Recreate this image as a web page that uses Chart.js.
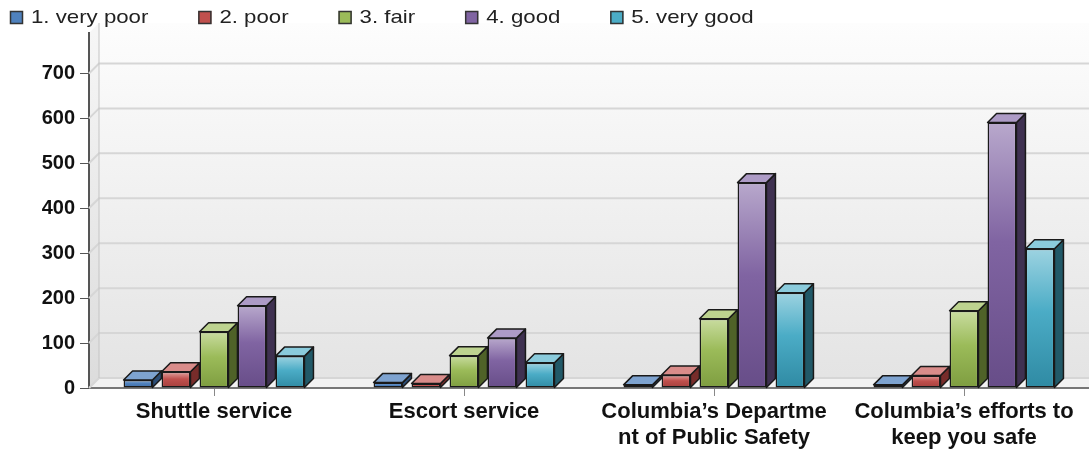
<!DOCTYPE html>
<html>
<head>
<meta charset="utf-8">
<script src="https://cdn.jsdelivr.net/npm/chart.js@4"></script>
<style>
  html, body { margin: 0; padding: 0; background: #fff; }
  #wrap { width: 1089px; height: 454px; }
</style>
</head>
<body>
<div id="wrap"><canvas id="chart" width="1089" height="454"></canvas></div>
<script>
// data
const categories = [
  "Shuttle service",
  "Escort service",
  ["Columbia\u2019s Departme", "nt of Public Safety"],
  ["Columbia\u2019s efforts to", "keep you safe"]
];
const seriesNames = ["1. very poor", "2. poor", "3. fair", "4. good", "5. very good"];
const veryPoor = [18, 12, 7, 7];
const poor     = [36, 10, 29, 28];
const fair     = [125, 72, 154, 172];
const good     = [183, 111, 457, 591];
const veryGood = [71, 56, 212, 310];
const yTicks = [0, 100, 200, 300, 400, 500, 600, 700];
const yMax = 790;

// colours: front, light top of front, bottom of front, top face, side face
const baseCol  = ["#4f81bd", "#c0504d", "#9bbb59", "#8064a2", "#4bacc6"];
const lightCol = ["#95b3d7", "#e3a3a1", "#c9dca0", "#b8a8cc", "#9dd3e1"];
const lowCol   = ["#3f6ca3", "#a33f3c", "#7e9d40", "#674d88", "#2f8aa3"];
const topCol   = ["#7ea3d0", "#d98c8a", "#bdd38f", "#ad9bc6", "#8acbdc"];
const sideCol  = ["#2c4d75", "#772c2a", "#4f6228", "#3f3151", "#215968"];

const DEPTH = 9;   // bar depth
const WALL = 10;   // back wall offset

function frontFill(i) {
  return c => {
    const chart = c.chart;
    if (!chart.chartArea || c.raw == null) return baseCol[i];
    const y = chart.scales.y;
    const top = y.getPixelForValue(c.raw);
    const bot = y.getPixelForValue(0);
    const g = chart.ctx.createLinearGradient(0, top, 0, Math.max(bot, top + 1));
    g.addColorStop(0, lightCol[i]);
    g.addColorStop(0.45, baseCol[i]);
    g.addColorStop(1, lowCol[i]);
    return g;
  };
}

const values = [veryPoor, poor, fair, good, veryGood];
const datasets = seriesNames.map((name, i) => ({
  label: name,
  data: values[i],
  backgroundColor: frontFill(i),
  borderColor: "#1a1a1a",
  borderWidth: 1.5,
  borderSkipped: false,
  categoryPercentage: 0.76,
  barPercentage: 0.76
}));

// walls, floor and back grid lines
const wallPlugin = {
  id: "walls",
  beforeDraw(chart) {
    const { ctx, chartArea: a } = chart;
    ctx.save();
    const g = ctx.createLinearGradient(0, a.top - WALL, 0, a.bottom);
    g.addColorStop(0, "#fdfdfd");
    g.addColorStop(1, "#e3e3e3");
    ctx.fillStyle = g;
    ctx.fillRect(a.left + WALL, a.top - WALL, a.right - a.left - WALL, a.bottom - a.top);
    // left wall
    const g2 = ctx.createLinearGradient(0, a.top, 0, a.bottom);
    g2.addColorStop(0, "#f6f6f6");
    g2.addColorStop(1, "#dcdcdc");
    ctx.fillStyle = g2;
    ctx.beginPath();
    ctx.moveTo(a.left, a.top);
    ctx.lineTo(a.left + WALL, a.top - WALL);
    ctx.lineTo(a.left + WALL, a.bottom - WALL);
    ctx.lineTo(a.left, a.bottom);
    ctx.closePath();
    ctx.fill();
    // floor
    ctx.fillStyle = "#f2f2f2";
    ctx.beginPath();
    ctx.moveTo(a.left, a.bottom);
    ctx.lineTo(a.left + WALL, a.bottom - WALL);
    ctx.lineTo(a.right, a.bottom - WALL);
    ctx.lineTo(a.right, a.bottom);
    ctx.closePath();
    ctx.fill();
    ctx.restore();
  },
  beforeDatasetsDraw(chart) {
    const { ctx, chartArea: a, scales } = chart;
    ctx.save();
    ctx.strokeStyle = "#d6d6d6";
    ctx.lineWidth = 2;
    scales.y.ticks.forEach(t => {
      const py = scales.y.getPixelForValue(t.value);
      ctx.beginPath();
      ctx.moveTo(a.left, py);
      ctx.lineTo(a.left + WALL, py - WALL);
      ctx.lineTo(a.right, py - WALL);
      ctx.stroke();
    });
    ctx.strokeStyle = "#c4c4c4";
    ctx.lineWidth = 1;
    ctx.beginPath();
    ctx.moveTo(a.left + WALL, a.bottom - WALL);
    ctx.lineTo(a.left + WALL, a.top - WALL);
    ctx.stroke();
    ctx.restore();
  }
};

// top and side faces of each bar
const bar3dPlugin = {
  id: "bar3d",
  afterDatasetsDraw(chart) {
    const ctx = chart.ctx;
    ctx.save();
    ctx.lineWidth = 1.5;
    ctx.strokeStyle = "#1a1a1a";
    ctx.lineJoin = "round";
    chart.data.datasets.forEach((ds, i) => {
      chart.getDatasetMeta(i).data.forEach(el => {
        const l = el.x - el.width / 2, r = el.x + el.width / 2;
        const top = el.y, bot = el.base;
        ctx.fillStyle = sideCol[i];
        ctx.beginPath();
        ctx.moveTo(r, top);
        ctx.lineTo(r + DEPTH, top - DEPTH);
        ctx.lineTo(r + DEPTH, bot - DEPTH);
        ctx.lineTo(r, bot);
        ctx.closePath();
        ctx.fill();
        ctx.stroke();
        ctx.fillStyle = topCol[i];
        ctx.beginPath();
        ctx.moveTo(l, top);
        ctx.lineTo(l + DEPTH, top - DEPTH);
        ctx.lineTo(r + DEPTH, top - DEPTH);
        ctx.lineTo(r, top);
        ctx.closePath();
        ctx.fill();
        ctx.stroke();
      });
    });
    ctx.restore();
  }
};

// legend row at the top
const legendPlugin = {
  id: "topLegend",
  afterDraw(chart) {
    const ctx = chart.ctx;
    ctx.save();
    ctx.font = "19px 'Liberation Sans', Arial, sans-serif";
    ctx.textBaseline = "middle";
    const sx = 1.17;
    let x = 10;
    chart.data.datasets.forEach((ds, i) => {
      ctx.fillStyle = baseCol[i];
      ctx.fillRect(x, 11, 13, 13);
      ctx.strokeStyle = "#333";
      ctx.lineWidth = 1.5;
      ctx.strokeRect(x + 0.5, 11.5, 12, 12);
      const tx = x + 21;
      const w = ctx.measureText(ds.label).width * sx;
      ctx.save();
      ctx.translate(tx, 18);
      ctx.scale(sx, 1);
      ctx.fillStyle = "#222";
      ctx.fillText(ds.label, 0, 0);
      ctx.restore();
      x = tx + w + 50;
    });
    ctx.restore();
  }
};

new Chart(document.getElementById("chart"), {
  type: "bar",
  data: { labels: categories, datasets },
  options: {
    responsive: false,
    animation: false,
    layout: { padding: { top: 33, left: 0, right: 0, bottom: 0 } },
    plugins: { legend: { display: false }, tooltip: { enabled: false } },
    scales: {
      x: {
        grid: { display: true, drawOnChartArea: false, offset: false, tickLength: 8, color: "#888" },
        border: { display: true, color: "#777", width: 2 },
        ticks: {
          autoSkip: false, maxRotation: 0, padding: 3, color: "#111",
          font: { family: "'Liberation Sans', Arial, sans-serif", size: 22, weight: "bold", lineHeight: 1.17 }
        },
        afterFit(s) { s.height = 66; }
      },
      y: {
        min: 0, max: yMax,
        grid: { display: true, drawOnChartArea: false, tickLength: 9, color: "#555" },
        border: { display: true, color: "#555", width: 2 },
        ticks: {
          padding: 5, color: "#111", autoSkip: false,
          font: { family: "'Liberation Sans', Arial, sans-serif", size: 20, weight: "bold" }
        },
        afterBuildTicks(s) { s.ticks = yTicks.map(v => ({ value: v })); },
        afterFit(s) { s.width = 89; }
      }
    }
  },
  plugins: [wallPlugin, bar3dPlugin, legendPlugin]
});
</script>
</body>
</html>
